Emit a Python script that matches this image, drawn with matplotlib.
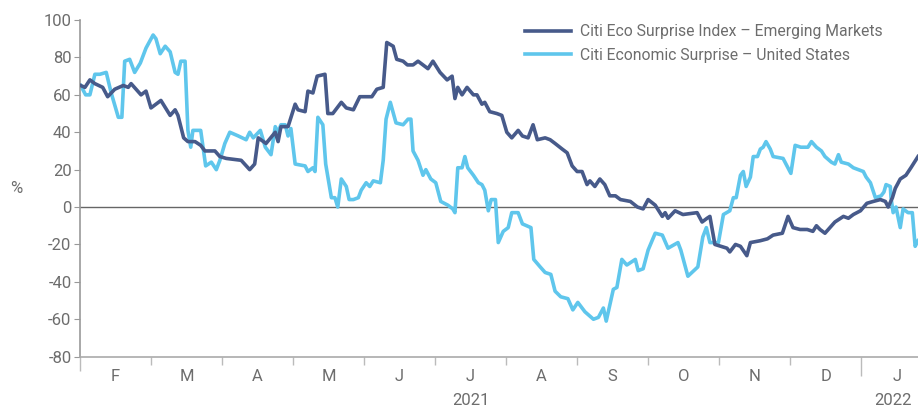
import numpy as np
import matplotlib.pyplot as plt

# x = position in months from 1 Feb 2021 (each month one equal slot, as on the chart)
em_x = [0.01, 0.07, 0.14, 0.21, 0.32, 0.39, 0.49, 0.61, 0.68, 0.72, 0.86, 0.93, 1.00, 1.14, 1.27,
        1.34, 1.38, 1.46, 1.52, 1.62, 1.70, 1.76, 1.90, 1.97, 2.06, 2.27, 2.39, 2.46, 2.51, 2.62,
        2.75, 2.79, 2.83, 2.93, 3.03, 3.07, 3.17, 3.21, 3.28, 3.34, 3.45, 3.49, 3.56, 3.68, 3.75,
        3.85, 3.94, 4.11, 4.18, 4.27, 4.32, 4.41, 4.46, 4.55, 4.61, 4.69, 4.76, 4.83, 4.90, 4.97,
        5.07, 5.17, 5.24, 5.28, 5.32, 5.38, 5.45, 5.54, 5.59, 5.66, 5.70, 5.77, 5.87, 5.94, 6.01,
        6.08, 6.17, 6.23, 6.31, 6.38, 6.44, 6.55, 6.62, 6.69, 6.79, 6.86, 6.93, 7.00, 7.07, 7.14,
        7.18, 7.25, 7.32, 7.39, 7.46, 7.54, 7.61, 7.75, 7.85, 7.93, 8.00, 8.10, 8.20, 8.24, 8.28,
        8.38, 8.49, 8.69, 8.76, 8.83, 8.87, 8.94, 9.11, 9.15, 9.23, 9.30, 9.39, 9.44, 9.58, 9.68,
        9.76, 9.89, 9.97, 10.04, 10.14, 10.24, 10.32, 10.37, 10.42, 10.49, 10.56, 10.63, 10.75,
        10.82, 10.89, 10.99, 11.08, 11.17, 11.27, 11.34, 11.38, 11.44, 11.48, 11.55, 11.63, 11.70,
        11.80]
em_y = [65, 64, 68, 66, 64, 59, 63, 65, 64, 66, 60, 62, 53, 57, 49,
        52, 49, 37, 35, 35, 33, 30, 30, 27, 26, 25, 20, 23, 37, 34,
        40, 35, 43, 43, 55, 52, 51, 62, 61, 70, 71, 50, 50, 56, 53,
        52, 59, 59, 63, 64, 88, 86, 79, 78, 76, 76, 78, 76, 74, 78,
        72, 68, 70, 58, 64, 60, 64, 60, 60, 55, 56, 51, 50, 49, 40,
        37, 41, 38, 37, 44, 36, 37, 36, 34, 31, 29, 22, 19, 19, 12,
        14, 11, 15, 12, 6, 6, 4, 3, 0, -1, 4, 1, -5, -3, -6,
        -2, -4, -3, -8, -6, -5, -20, -22, -24, -20, -21, -26, -19, -18, -17,
        -15, -14, -5, -11, -12, -12, -13, -10, -12, -14, -11, -8, -5,
        -6, -4, -2, 2, 3, 4, 3, 0, 5, 10, 15, 17, 21,
        27]

us_x = [0.01, 0.08, 0.14, 0.21, 0.28, 0.37, 0.44, 0.54, 0.59, 0.63, 0.70, 0.77, 0.85, 0.93, 1.03,
        1.07, 1.13, 1.20, 1.27, 1.34, 1.38, 1.42, 1.48, 1.52, 1.56, 1.59, 1.70, 1.77, 1.85, 1.92,
        1.97, 2.04, 2.11, 2.23, 2.34, 2.39, 2.44, 2.54, 2.61, 2.69, 2.75, 2.79, 2.83, 2.89, 2.93,
        2.97, 3.03, 3.17, 3.21, 3.28, 3.31, 3.35, 3.42, 3.46, 3.54, 3.59, 3.63, 3.68, 3.75, 3.79,
        3.85, 3.92, 3.96, 4.03, 4.08, 4.13, 4.23, 4.27, 4.31, 4.37, 4.45, 4.55, 4.62, 4.66, 4.69,
        4.76, 4.83, 4.87, 4.94, 5.01, 5.08, 5.18, 5.25, 5.28, 5.32, 5.38, 5.42, 5.46, 5.54, 5.61,
        5.66, 5.70, 5.75, 5.79, 5.85, 5.89, 5.96, 6.03, 6.08, 6.17, 6.23, 6.35, 6.39, 6.48, 6.55,
        6.63, 6.69, 6.77, 6.87, 6.94, 7.01, 7.11, 7.23, 7.30, 7.37, 7.41, 7.51, 7.56, 7.63, 7.70,
        7.82, 7.86, 7.93, 8.00, 8.10, 8.20, 8.28, 8.42, 8.46, 8.56, 8.70, 8.77, 8.82, 8.87, 8.99,
        9.06, 9.15, 9.20, 9.24, 9.30, 9.34, 9.38, 9.44, 9.48, 9.54, 9.58, 9.62, 9.66, 9.72, 9.76,
        9.90, 10.01, 10.07, 10.15, 10.25, 10.30, 10.37, 10.44, 10.49, 10.58, 10.63, 10.68, 10.72,
        10.82, 10.89, 10.96, 11.03, 11.07, 11.13, 11.20, 11.28, 11.32, 11.35, 11.41, 11.42, 11.45,
        11.49, 11.55, 11.59, 11.66, 11.72, 11.76, 11.80]
us_y = [65, 60, 60, 71, 71, 72, 61, 48, 48, 78, 79, 72, 77, 85, 92,
        90, 82, 86, 83, 72, 71, 78, 78, 41, 32, 41, 41, 22, 24, 20,
        25, 34, 40, 38, 36, 40, 37, 41, 32, 28, 43, 40, 44, 44, 38,
        42, 23, 22, 19, 21, 19, 48, 44, 23, 5, 5, 0, 15, 11, 4,
        4, 5, 9, 13, 11, 14, 13, 25, 47, 56, 45, 44, 47, 47, 30,
        25, 17, 20, 15, 13, 3, 1, -1, -3, 21, 21, 27, 21, 17, 13,
        12, 9, -2, 4, 4, -19, -13, -11, -3, -3, -9, -11, -28, -32, -35,
        -36, -45, -48, -49, -55, -51, -56, -60, -59, -54, -61, -44, -43, -28, -31,
        -28, -34, -33, -23, -14, -15, -22, -19, -23, -37, -32, -16, -11, -19, -19,
        -4, -2, 5, 5, 17, 19, 11, 16, 27, 27, 31, 32, 35, 31, 27,
        26, 18, 33, 32, 32, 35, 32, 30, 27, 24, 23, 28, 24,
        23, 21, 20, 19, 16, 13, 5, 6, 8, 12, 11, 5, -3,
        0, -11, -1, -3, -3, -21, -18]

months = ['F', 'M', 'A', 'M', 'J', 'J', 'A', 'S', 'O', 'N', 'D', 'J']
em_label = 'Citi Eco Surprise Index – Emerging Markets'
us_label = 'Citi Economic Surprise – United States'

plt.rcParams['font.family'] = ['Roboto', 'DejaVu Sans']
plt.rcParams['axes.unicode_minus'] = False
grey = '#6d6d6d'

fig = plt.figure(figsize=(9.18, 4.09), dpi=100)
ax = fig.add_axes([0.0871, 0.128, 0.9129, 0.823])

ax.plot(em_x, em_y, color='#475a8a', lw=2.6, label=em_label, zorder=3)
ax.plot(us_x, us_y, color='#5fc6ec', lw=2.6, label=us_label, zorder=2)
ax.axhline(0, color='#666666', lw=1.0, zorder=1)

ax.set_xlim(0, 11.8)
ax.set_ylim(-80, 100)
ax.set_yticks(np.arange(-80, 101, 20))
ax.tick_params(axis='y', direction='out', length=4, color='#999999', labelsize=12, labelcolor=grey, pad=2)

ax.set_xticks(np.arange(0, 12))
ax.set_xticklabels([])
ax.tick_params(axis='x', direction='out', length=6, color='#bbbbbb', width=1)
ax.set_xticks(np.arange(12) + 0.5, minor=True)
ax.set_xticklabels(months, minor=True)
ax.tick_params(axis='x', which='minor', length=0, labelsize=12, labelcolor=grey, pad=9)
# year boundary tick
xt = ax.get_xticklines()
xt[22].set_markersize(14)
xt[22].set_color('#666666')
xt[0].set_markersize(10)
xt[0].set_color('#888888')

for s in ['top', 'right']:
    ax.spines[s].set_visible(False)
ax.spines['left'].set_color('#999999')
ax.spines['bottom'].set_color('#aaaaaa')
ax.spines['left'].set_linewidth(1.2)
ax.spines['bottom'].set_linewidth(1.2)

ax.text(5.5, -0.13, '2021', transform=ax.get_xaxis_transform(), ha='center', va='center',
        fontsize=12, color=grey)
ax.text(11.45, -0.13, '2022', transform=ax.get_xaxis_transform(), ha='center', va='center',
        fontsize=12, color=grey, clip_on=False)
fig.text(0.018, 0.54, '%', fontsize=12, color=grey, ha='center', va='center')

leg = ax.legend(loc='upper right', bbox_to_anchor=(0.975, 1.03), frameon=False, fontsize=11.3,
                handlelength=2.9, labelspacing=0.55, handletextpad=0.6)
for t in leg.get_texts():
    t.set_color(grey)

fig.savefig('out.png', dpi=100)
